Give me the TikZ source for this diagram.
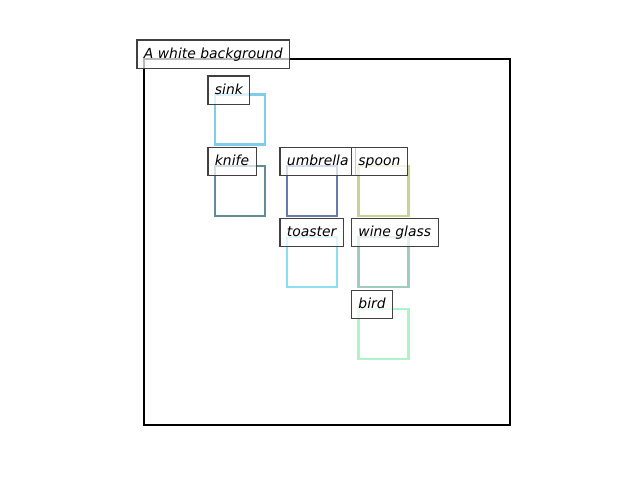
\documentclass[tikz,border=0pt]{standalone}
\usepackage{fontspec}
\setmainfont{DejaVu Sans}
\usetikzlibrary{calc}
\definecolor{cSink}{RGB}{128,204,236}
\definecolor{cKnife}{RGB}{98,140,152}
\definecolor{cUmbrella}{RGB}{104,124,170}
\definecolor{cSpoon}{RGB}{200,212,150}
\definecolor{cToaster}{RGB}{140,222,242}
\definecolor{cWine}{RGB}{160,204,188}
\definecolor{cBird}{RGB}{172,244,202}
\definecolor{lblEdge}{RGB}{64,64,64}
\tikzset{
  frame/.style={draw=black, line width=1.45pt, outer sep=0pt},
  objbox/.style={draw, line width=1.45pt, minimum width=36pt, minimum height=36pt, inner sep=0pt, outer sep=0pt},
  tag/.style={draw=lblEdge, line width=0.75pt, fill=white, fill opacity=0.72, text opacity=1,
    font=\fontsize{10}{12}\selectfont\itshape, anchor=north west, outer sep=0pt,
    inner xsep=5pt, inner ysep=0pt, text height=13.2pt, text depth=7pt},
}
\begin{document}
\begin{tikzpicture}[x=0.72pt, y=-0.72pt]
  \useasboundingbox (0,0) rectangle (640,480);
  % outer frame
  \node[frame, minimum width=263.5pt, minimum height=263.5pt, inner sep=0pt, anchor=north west] (bg) at (144,59) {};
  % object boxes
  \node[objbox, draw=cSink]     (sink)     at (240,119.5) {};
  \node[objbox, draw=cKnife]    (knife)    at (240,191) {};
  \node[objbox, draw=cUmbrella] (umbrella) at (312,191) {};
  \node[objbox, draw=cSpoon]    (spoon)    at (383.5,191) {};
  \node[objbox, draw=cToaster]  (toaster)  at (312,262) {};
  \node[objbox, draw=cWine]     (wine)     at (383.5,262) {};
  \node[objbox, draw=cBird]     (bird)     at (383.5,334) {};
  % labels
  \node[tag] (title) at (137,40) {A white background};
  \node[tag] (sinkT)     at ($(sink.north west)+(-7,-18.5)$) {sink};
  \node[tag] (knifeT)    at ($(knife.north west)+(-7,-18.5)$) {knife};
  \node[tag] (umbrellaT) at ($(umbrella.north west)+(-7,-18.5)$) {umbrella};
  \node[tag] (spoonT)    at ($(spoon.north west)+(-7,-18.5)$) {spoon};
  \node[tag] (toasterT)  at ($(toaster.north west)+(-7,-18.5)$) {toaster};
  \node[tag] (wineT)     at ($(wine.north west)+(-7,-18.5)$) {wine glass};
  \node[tag] (birdT)     at ($(bird.north west)+(-7,-18.5)$) {bird};
\end{tikzpicture}
\end{document}
